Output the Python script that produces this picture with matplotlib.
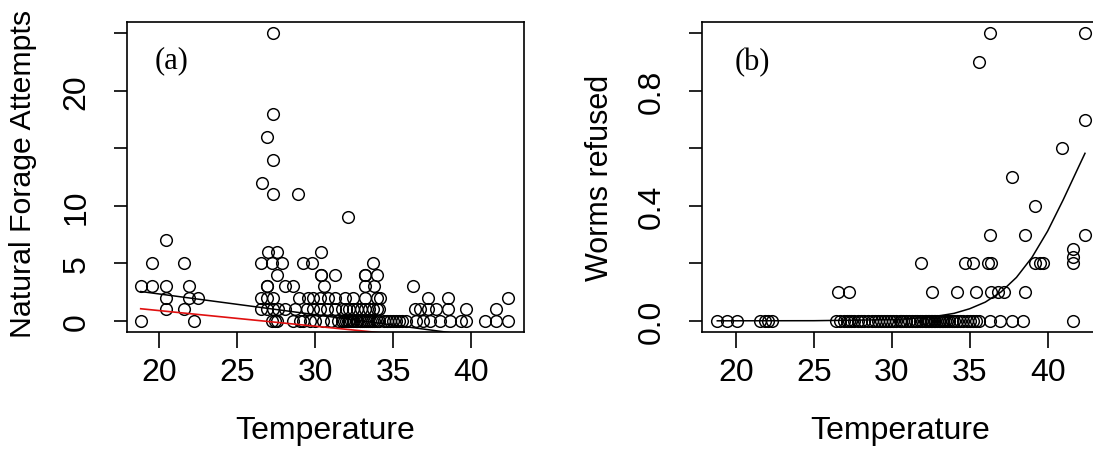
import matplotlib.pyplot as plt

# ---- panel (a): natural forage attempts vs temperature ----
temp_a = [27.31, 27.31, 26.9, 27.31, 26.6, 27.31, 28.9, 32.1, 20.43,
          26.95, 27.53, 30.4,
          19.51, 21.6, 26.5, 27.2, 27.9, 29.19, 29.77, 33.72,
          27.53, 30.4, 30.4, 31.26, 33.19, 33.19, 33.98,
          18.8, 19.51, 20.43, 21.92, 26.88, 26.88, 28.06, 28.59, 30.55, 33.19, 33.8, 36.28,
          20.43, 21.92, 22.47, 26.5, 26.88, 27.27, 28.95, 29.55, 29.87, 30.3, 30.83,
          31.26, 31.9, 32.44, 33.19, 33.94, 34.15, 37.24, 38.53, 42.37,
          20.43, 21.6, 26.5, 26.9, 27.27, 27.6, 28.06, 28.7, 29.45, 29.87, 30.3, 30.73,
          31.26, 31.7, 31.95, 32.2, 32.45, 32.7, 32.95, 33.2, 33.45, 33.7, 33.95, 34.1,
          36.39, 36.71, 37.24, 37.78, 38.53, 39.7, 41.63,
          18.8, 22.22, 27.2, 27.42, 27.53, 28.59, 29.02, 29.23, 29.66, 30.0, 30.51, 31.0,
          31.47, 31.7, 31.85, 32.0, 32.1, 32.2, 32.3, 32.45, 32.6, 32.7, 32.85, 33.0,
          33.1, 33.25, 33.4, 33.5, 33.65, 33.8, 33.95, 34.1, 34.4, 34.6, 34.8, 35.0,
          35.2, 35.4, 35.6, 35.8, 36.5, 36.92, 37.35, 37.99, 38.63, 39.38, 39.7,
          40.88, 41.63, 42.37]
forage_a = [25, 18, 16, 14, 12, 11, 11, 9, 7,
            6, 6, 6,
            5, 5, 5, 5, 5, 5, 5, 5,
            4, 4, 4, 4, 4, 4, 4,
            3, 3, 3, 3, 3, 3, 3, 3, 3, 3, 3, 3,
            2, 2, 2, 2, 2, 2, 2, 2, 2, 2, 2,
            2, 2, 2, 2, 2, 2, 2, 2, 2,
            1, 1, 1, 1, 1, 1, 1, 1, 1, 1, 1, 1,
            1, 1, 1, 1, 1, 1, 1, 1, 1, 1, 1, 1,
            1, 1, 1, 1, 1, 1, 1,
            0, 0, 0, 0, 0, 0, 0, 0, 0, 0, 0, 0,
            0, 0, 0, 0, 0, 0, 0, 0, 0, 0, 0, 0,
            0, 0, 0, 0, 0, 0, 0, 0, 0, 0, 0, 0,
            0, 0, 0, 0, 0, 0, 0, 0, 0, 0, 0,
            0, 0, 0]

# fitted lines (end points)
fit_black_x = [18.8, 42.4]
fit_black_y = [2.55, -1.7]
fit_red_x = [18.8, 42.4]
fit_red_y = [1.05, -2.15]

# ---- panel (b): proportion of worms refused vs temperature ----
temp_b = [36.28, 42.37, 35.58, 42.37, 40.92, 37.74, 39.21,
          36.28, 38.53, 42.37, 41.62, 41.62,
          31.9, 34.68, 35.21, 36.17, 36.39, 39.17, 39.49, 39.7, 41.62,
          26.56, 27.24, 32.6, 34.19, 35.43, 36.39, 36.82, 37.18, 38.53,
          18.76, 19.44, 20.08, 21.54, 21.86, 22.07, 22.29,
          26.45, 26.7, 26.95, 27.1, 27.25, 27.4, 27.55, 27.8, 28.0, 28.2, 28.45,
          28.7, 28.9, 29.1, 29.3, 29.5, 29.7, 29.9, 30.1, 30.3, 30.5, 30.6, 30.7,
          30.9, 31.1, 31.3, 31.5, 31.65, 31.8, 31.95, 32.1, 32.2, 32.3, 32.4, 32.5,
          32.6, 32.7, 32.8, 32.9, 33.0, 33.1, 33.2, 33.3, 33.4, 33.55, 33.7, 33.85,
          34.0, 34.2, 34.4, 34.6, 34.8, 35.0, 35.2, 35.4, 35.6,
          36.28, 36.92, 37.7, 38.45, 41.62]
refused_b = [1.0, 1.0, 0.9, 0.7, 0.6, 0.5, 0.4,
             0.3, 0.3, 0.3, 0.25, 0.222,
             0.2, 0.2, 0.2, 0.2, 0.2, 0.2, 0.2, 0.2, 0.2,
             0.1, 0.1, 0.1, 0.1, 0.1, 0.1, 0.1, 0.1, 0.1,
             0, 0, 0, 0, 0, 0, 0,
             0, 0, 0, 0, 0, 0, 0, 0, 0, 0, 0,
             0, 0, 0, 0, 0, 0, 0, 0, 0, 0, 0, 0,
             0, 0, 0, 0, 0, 0, 0, 0, 0, 0, 0, 0,
             0, 0, 0, 0, 0, 0, 0, 0, 0, 0, 0, 0,
             0, 0, 0, 0, 0, 0, 0, 0, 0,
             0, 0, 0, 0, 0]

# fitted curve, values
curve_x = [18.8, 25, 30, 32, 33, 34, 35, 36, 37, 38, 39, 40, 41, 42, 42.4]
curve_y = [0.0, 0.0004, 0.004, 0.0105, 0.017, 0.026, 0.042, 0.065, 0.100,
           0.151, 0.221, 0.312, 0.421, 0.537, 0.583]

plt.rcParams['font.family'] = ['Liberation Sans', 'DejaVu Sans']

fig = plt.figure(figsize=(10.93, 4.52), dpi=100)
ax1 = fig.add_axes([0.1159, 0.2626, 0.3635, 0.6865])
ax2 = fig.add_axes([0.6420, 0.2626, 0.3635, 0.6865])


def style(ax):
    for s in ax.spines.values():
        s.set_linewidth(1.2)
    ax.tick_params(axis='x', length=11.5, width=1.2, pad=6, labelsize=23)
    ax.tick_params(axis='y', length=9.5, width=1.2, pad=16, labelsize=23,
                   labelrotation=90)
    ax.set_xticks([20, 25, 30, 35, 40])


mk = dict(marker='o', linestyle='none', markersize=8.4, markerfacecolor='none',
          markeredgecolor='black', markeredgewidth=1.05)

# (a)
ax1.plot(temp_a, forage_a, **mk)
ax1.plot(fit_black_x, fit_black_y, color='black', lw=1.1)
ax1.plot(fit_red_x, fit_red_y, color='#e01010', lw=1.2)
ax1.set_xlim(17.9, 43.4)
ax1.set_ylim(-1, 26)
style(ax1)
ax1.set_yticks([0, 5, 10, 15, 20, 25])
ax1.set_yticklabels(['0', '5', '10', '', '20', ''], va='center')
ax1.set_xlabel('Temperature', fontsize=23)
ax1.xaxis.set_label_coords(0.5, -0.265)
ax1.set_ylabel('Natural Forage Attempts', fontsize=21.8)
ax1.yaxis.set_label_coords(-0.226, 0.515)
ax1.text(0.071, 0.877, '(a)', transform=ax1.transAxes, fontsize=22,
         family='Liberation Serif', va='center', ha='left')

# (b)
ax2.plot(temp_b, refused_b, **mk)
ax2.plot(curve_x, curve_y, color='black', lw=1.1)
ax2.set_xlim(17.8, 43.3)
ax2.set_ylim(-0.04, 1.04)
style(ax2)
ax2.set_yticks([0, 0.2, 0.4, 0.6, 0.8, 1.0])
ax2.set_yticklabels(['0.0', '', '0.4', '', '0.8', ''], va='center')
ax2.set_xlabel('Temperature', fontsize=23)
ax2.xaxis.set_label_coords(0.5, -0.265)
ax2.set_ylabel('Worms refused', fontsize=22)
ax2.yaxis.set_label_coords(-0.219, 0.5)
ax2.text(0.084, 0.873, '(b)', transform=ax2.transAxes, fontsize=22,
         family='Liberation Serif', va='center', ha='left')

fig.savefig('out.png', dpi=100)
